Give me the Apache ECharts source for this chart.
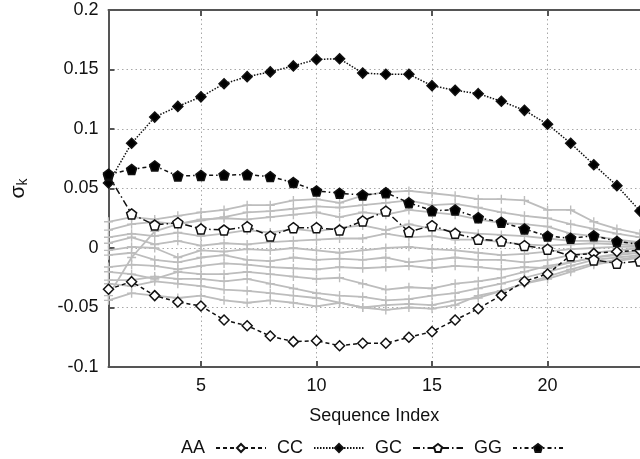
<!DOCTYPE html>
<html>
<head>
<meta charset="utf-8">
<script src="https://cdn.jsdelivr.net/npm/echarts@6/dist/echarts.min.js"></script>
<style>html,body{margin:0;padding:0;background:#fff}#c{width:640px;height:459px}</style>
</head>
<body>
<div id="c"></div>
<script>
const seqIndex = [1,2,3,4,5,6,7,8,9,10,11,12,13,14,15,16,17,18,19,20,21,22,23,24];
const xTicks = [5,10,15,20];
const legendNames = ['AA','CC','GC','GG'];

const AA = [-0.0347,-0.0283,-0.040,-0.0454,-0.0487,-0.0605,-0.0653,-0.074,-0.0787,-0.0779,-0.0821,-0.080,-0.080,-0.075,-0.0703,-0.0605,-0.051,-0.0398,-0.028,-0.0218,-0.0061,-0.0045,-0.003,-0.002];
const CC = [0.0546,0.088,0.110,0.119,0.127,0.138,0.144,0.148,0.153,0.1585,0.159,0.147,0.146,0.146,0.1364,0.1325,0.1297,0.1233,0.1157,0.104,0.088,0.070,0.0524,0.031];
const GC = [0.061,0.0286,0.0193,0.0213,0.016,0.0151,0.0179,0.010,0.0171,0.0171,0.0151,0.0227,0.031,0.0137,0.0188,0.0123,0.0073,0.0059,0.002,-0.001,-0.0065,-0.010,-0.0129,-0.011];
const GG = [0.062,0.066,0.069,0.0605,0.061,0.0613,0.0616,0.060,0.055,0.048,0.046,0.0445,0.0465,0.038,0.0314,0.032,0.0255,0.0216,0.016,0.010,0.0082,0.0103,0.0056,0.003];

const G1 = [0.022,0.026,0.024,0.027,0.030,0.032,0.036,0.036,0.040,0.041,0.038,0.044,0.047,0.048,0.046,0.044,0.041,0.041,0.040,0.032,0.032,0.022,0.016,0.012];
const G2 = [0.015,0.020,0.022,0.020,0.023,0.026,0.030,0.031,0.033,0.035,0.034,0.036,0.038,0.040,0.036,0.037,0.034,0.030,0.027,0.025,0.020,0.016,0.012,0.009];
const G3 = [-0.040,-0.008,0.014,0.020,0.024,0.025,0.024,0.026,0.028,0.030,0.026,0.030,0.028,0.032,0.030,0.028,0.024,0.021,0.020,0.018,0.012,0.010,0.007,0.005];
const G4 = [0.009,0.012,0.010,0.013,0.010,0.012,0.015,0.013,0.016,0.014,0.017,0.019,0.015,0.020,0.016,0.014,0.012,0.011,0.010,0.008,0.006,0.006,0.005,0.004];
const G5 = [0.004,0.009,0.003,0.006,0.002,0.004,0.003,0.005,0.006,0.007,0.008,0.008,0.012,0.009,0.010,0.007,0.007,0.005,0.003,0.002,0.003,0.004,0.003,0.002];
const G6 = [-0.002,0.001,0.000,-0.008,-0.002,-0.003,-0.001,-0.002,0.000,-0.002,-0.004,-0.002,0.000,0.001,-0.001,-0.002,-0.004,-0.006,-0.005,-0.003,-0.001,0.000,0.001,0.001];
const G7 = [-0.006,-0.004,-0.010,-0.012,-0.008,-0.006,-0.010,-0.011,-0.008,-0.010,-0.009,-0.010,-0.008,-0.012,-0.010,-0.008,-0.010,-0.010,-0.012,-0.010,-0.006,-0.004,-0.002,0.000];
const G8 = [-0.016,-0.014,-0.015,-0.018,-0.015,-0.013,-0.014,-0.016,-0.017,-0.018,-0.016,-0.017,-0.016,-0.015,-0.017,-0.015,-0.016,-0.018,-0.016,-0.017,-0.012,-0.008,-0.005,-0.002];
const G9 = [-0.020,-0.022,-0.026,-0.020,-0.022,-0.022,-0.020,-0.022,-0.024,-0.026,-0.025,-0.030,-0.035,-0.033,-0.034,-0.030,-0.028,-0.025,-0.020,-0.015,-0.012,-0.008,-0.006,-0.004];
const G10 = [-0.027,-0.027,-0.024,-0.026,-0.026,-0.028,-0.026,-0.030,-0.034,-0.038,-0.040,-0.041,-0.044,-0.043,-0.040,-0.038,-0.034,-0.030,-0.025,-0.020,-0.015,-0.010,-0.008,-0.006];
const G11 = [-0.030,-0.032,-0.028,-0.030,-0.032,-0.035,-0.036,-0.038,-0.040,-0.042,-0.046,-0.050,-0.048,-0.047,-0.048,-0.044,-0.042,-0.036,-0.030,-0.024,-0.018,-0.013,-0.010,-0.007];
const G12 = [-0.044,-0.038,-0.040,-0.042,-0.040,-0.044,-0.046,-0.044,-0.046,-0.049,-0.046,-0.050,-0.052,-0.050,-0.051,-0.048,-0.040,-0.036,-0.030,-0.026,-0.020,-0.014,-0.011,-0.008];
const greySeries = [G1,G2,G3,G4,G5,G6,G7,G8,G9,G10,G11,G12];

const pair = arr => seqIndex.map((x,i) => [x, arr[i]]);
const FONT = 'Liberation Sans, Arial, sans-serif';
const PLUS = 'path://M4,0h1.6v4.2h4.4v1.6h-4.4v4.2h-1.6v-4.2h-4.4v-1.6h4.4z';
const PENT = 'path://M0,-1L0.951,-0.309L0.588,0.809L-0.588,0.809L-0.951,-0.309Z';

const series = [];
greySeries.forEach((g, i) => {
  series.push({
    type: 'line', name: 'grey' + (i+1), data: pair(g), z: 2,
    symbol: PLUS, symbolSize: 9, showSymbol: true,
    lineStyle: {color: '#bdbdbd', width: 1.8},
    itemStyle: {color: '#bdbdbd'},
    silent: true, animation: false
  });
});
const blackDefs = [
  {name:'AA', data:AA, symbol:'diamond', size:10, fill:'#fff', dash:[4,3]},
  {name:'CC', data:CC, symbol:'diamond', size:10, fill:'#000', dash:[1.5,1.5]},
  {name:'GC', data:GC, symbol:PENT, size:10, fill:'#fff', dash:[7,3,1.5,3]},
  {name:'GG', data:GG, symbol:PENT, size:10, fill:'#000', dash:[4,3,1.5,3]}
];
blackDefs.forEach((d, i) => {
  series.push({
    type: 'line', name: d.name, data: pair(d.data), z: 5 + i,
    symbol: d.symbol, symbolSize: d.size, showSymbol: true,
    lineStyle: {color: '#111', width: 1.5, type: d.dash},
    itemStyle: {color: d.fill, borderColor: '#111', borderWidth: 1.5},
    animation: false
  });
});

const chart = echarts.init(document.getElementById('c'));
chart.setOption({
  backgroundColor: '#fff',
  animation: false,
  textStyle: {fontFamily: FONT},
  grid: {left: 106, top: 10, bottom: 92, right: -5, containLabel: false},
  legend: {
    data: legendNames, left: 176, top: 434, align: 'right',
    itemWidth: 50, itemHeight: 10, itemGap: 10,
    textStyle: {fontSize: 18, color: '#111', fontFamily: FONT, padding: [0, 6, 0, 0]}
  },
  xAxis: [{
    type: 'value', min: 1, max: 24, position: 'bottom',
    name: 'Sequence Index', nameLocation: 'middle', nameGap: 40,
    nameTextStyle: {fontSize: 18, color: '#111', fontFamily: FONT},
    axisLine: {onZero: false, lineStyle: {color: '#555', width: 2}},
    axisTick: {inside: true, length: 6, customValues: xTicks, lineStyle: {color: '#555', width: 2}},
    axisLabel: {customValues: xTicks, fontSize: 18, color: '#111', margin: 10, fontFamily: FONT},
    splitLine: {show: true, lineStyle: {color: '#a8a8a8', width: 1, type: [1.5, 3]}}
  }, {
    type: 'value', min: 1, max: 24, position: 'top',
    axisLine: {onZero: false, lineStyle: {color: '#555', width: 2}},
    axisTick: {inside: true, length: 6, customValues: xTicks, lineStyle: {color: '#555', width: 2}},
    axisLabel: {show: false},
    splitLine: {show: false}
  }],
  yAxis: {
    type: 'value', min: -0.1, max: 0.2, interval: 0.05,
    name: '{s|σ}{k|k}', nameLocation: 'middle', nameGap: 78, nameRotate: 90,
    nameTextStyle: {
      color: '#111', fontFamily: FONT,
      rich: {
        s: {fontSize: 21, fontFamily: FONT, color: '#111'},
        k: {fontSize: 14, fontFamily: FONT, color: '#111', padding: [10, 0, 0, 0], verticalAlign: 'bottom'}
      }
    },
    axisLine: {onZero: false, lineStyle: {color: '#555', width: 2}},
    axisTick: {inside: true, length: 6, lineStyle: {color: '#555', width: 2}},
    axisLabel: {fontSize: 18, color: '#111', margin: 10, fontFamily: FONT},
    splitLine: {show: true, lineStyle: {color: '#a8a8a8', width: 1, type: [1.5, 3]}}
  },
  series: series
});
</script>
</body>
</html>
